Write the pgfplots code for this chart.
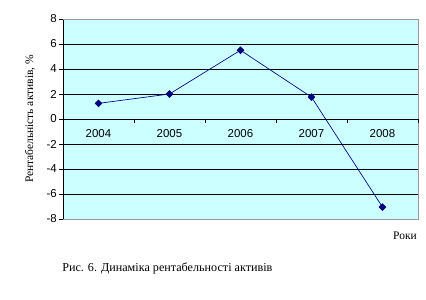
\documentclass[border=0pt]{standalone}
\usepackage{pgfplots}
\pgfplotsset{compat=1.18}
\usepackage{fontspec}
\setmainfont{Liberation Serif}
\newfontfamily\arial{Liberation Sans}
\definecolor{cyanbg}{RGB}{204,255,255}
\definecolor{navyline}{RGB}{0,0,128}
\begin{document}
\begin{tikzpicture}
\path (0,0) rectangle (319.5pt,225pt);
\begin{axis}[
  at={(47.25pt,60.75pt)}, anchor=south west,
  width=266.25pt, height=150pt, scale only axis,
  xmin=-0.5, xmax=4.5, ymin=-8, ymax=8,
  axis background/.style={fill=cyanbg},
  axis line style={draw=gray!80, line width=0.6pt},
  xtick=\empty,
  ytick={-8,-6,...,8},
  ytick pos=left, tick align=outside,
  major tick length=3pt,
  every tick/.style={black, line width=0.6pt},
  ymajorgrids,
  major grid style={black, line width=0.6pt},
  yticklabel style={font=\arial\fontsize{8.6}{10}\selectfont, inner sep=1.5pt},
  /pgf/number format/assume math mode=true,
  clip=false,
]
\addplot[color=navyline, line width=0.5pt, mark=square*, mark size=1.8pt,
  mark options={fill=navyline, draw=navyline, rotate=45}]
  coordinates {(0,1.25) (1,2.0) (2,5.5) (3,1.75) (4,-7.05)};
\draw[black, line width=0.6pt] (rel axis cs:0,0) -- (rel axis cs:0,1);
\draw[gray!80, line width=0.6pt] (rel axis cs:0,1) -- (rel axis cs:1,1);
\draw[gray!80, line width=0.6pt] (rel axis cs:0,0) -- (rel axis cs:1,0);
\draw[black, line width=0.6pt] (axis cs:-0.5,0) -- (axis cs:4.5,0);
\pgfplotsinvokeforeach{0.5,1.5,2.5,3.5,4.5}{
  \draw[black, line width=0.6pt] (axis cs:#1,0) -- ++(0pt,-3pt);
}
\node[font=\arial\fontsize{8.6}{10}\selectfont, below=4pt] at (axis cs:0,0) {2004};
\node[font=\arial\fontsize{8.6}{10}\selectfont, below=4pt] at (axis cs:1,0) {2005};
\node[font=\arial\fontsize{8.6}{10}\selectfont, below=4pt] at (axis cs:2,0) {2006};
\node[font=\arial\fontsize{8.6}{10}\selectfont, below=4pt] at (axis cs:3,0) {2007};
\node[font=\arial\fontsize{8.6}{10}\selectfont, below=4pt] at (axis cs:4,0) {2008};
\end{axis}
\node[rotate=90, font=\fontsize{8.6}{10}\selectfont] at (22.5pt,135.75pt) {Рентабельність активів, \%};
\node[font=\fontsize{8.6}{10}\selectfont] at (303.75pt,48pt) {Роки};
\node[anchor=west, font=\fontsize{9.1}{10}\selectfont, inner sep=0pt] at (46.5pt,24pt) {Рис. 6. Динаміка рентабельності активів};
\end{tikzpicture}
\end{document}
